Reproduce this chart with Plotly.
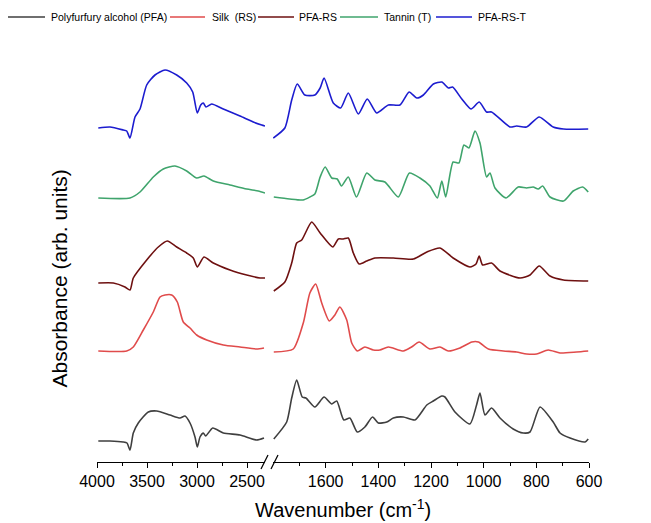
import plotly.graph_objects as go

# ---------------- data (wavenumber in cm^-1, absorbance in arb. units, stacked) -------------
SERIES_NAMES = ["Polyfurfury alcohol (PFA)", "Silk  (RS)", "PFA-RS", "Tannin (T)", "PFA-RS-T"]

pfa_wn_hi = [3987, 3870, 3740, 3700, 3670, 3637, 3587, 3487, 3403, 3270, 3170, 3120, 3070, 3020,
             2997, 2970, 2937, 2913, 2843, 2737, 2570, 2403, 2330]
pfa_ab_hi = [0.21, 0.21, 0.20, 0.19, 0.12, 0.29, 0.39, 0.50, 0.51, 0.47, 0.44, 0.46, 0.39, 0.25,
             0.15, 0.25, 0.29, 0.26, 0.34, 0.29, 0.27, 0.22, 0.24]
pfa_wn_lo = [1797, 1748, 1729, 1710, 1689, 1675, 1641, 1606, 1577, 1558, 1531, 1508, 1480, 1451,
             1422, 1400, 1368, 1343, 1305, 1261, 1216, 1191, 1159, 1147, 1109, 1052, 1027, 1014,
             995, 970, 938, 888, 850, 824, 786, 736, 710, 672, 615, 603]
pfa_ab_lo = [0.23, 0.40, 0.64, 0.82, 0.65, 0.64, 0.55, 0.65, 0.58, 0.61, 0.42, 0.44, 0.30, 0.35,
             0.45, 0.39, 0.40, 0.44, 0.45, 0.42, 0.57, 0.61, 0.66, 0.65, 0.50, 0.38, 0.57, 0.69,
             0.47, 0.54, 0.44, 0.33, 0.29, 0.30, 0.55, 0.40, 0.29, 0.24, 0.20, 0.23]

rs_wn_hi = [3987, 3703, 3637, 3537, 3437, 3370, 3320, 3253, 3197, 3137, 3070, 3003, 2903, 2737,
            2570, 2403, 2330]
rs_ab_hi = [1.11, 1.11, 1.15, 1.32, 1.50, 1.65, 1.67, 1.67, 1.60, 1.40, 1.34, 1.27, 1.22, 1.17,
            1.15, 1.13, 1.14]
rs_wn_lo = [1797, 1723, 1685, 1660, 1638, 1615, 1586, 1565, 1546, 1520, 1501, 1480, 1451, 1419,
            1394, 1362, 1305, 1274, 1245, 1204, 1166, 1134, 1090, 1045, 1020, 982, 925, 875,
            837, 799, 755, 710, 647, 603]
rs_ab_lo = [1.10, 1.13, 1.39, 1.69, 1.78, 1.59, 1.41, 1.47, 1.55, 1.42, 1.19, 1.11, 1.15, 1.12,
            1.12, 1.15, 1.11, 1.15, 1.20, 1.13, 1.15, 1.11, 1.14, 1.20, 1.20, 1.13, 1.11, 1.10,
            1.08, 1.08, 1.12, 1.09, 1.10, 1.11]

pfars_wn_hi = [3987, 3837, 3720, 3670, 3637, 3503, 3387, 3297, 3203, 3103, 3037, 2997, 2930,
               2837, 2670, 2503, 2370, 2320]
pfars_ab_hi = [1.79, 1.79, 1.75, 1.72, 1.84, 2.02, 2.15, 2.21, 2.15, 2.09, 2.04, 1.95, 2.05,
               1.99, 1.92, 1.87, 1.84, 1.84]
pfars_wn_lo = [1797, 1755, 1729, 1710, 1691, 1653, 1621, 1573, 1552, 1533, 1514, 1495, 1473,
               1444, 1413, 1343, 1267, 1216, 1166, 1116, 1052, 1029, 1017, 1004, 970, 938, 862,
               824, 789, 748, 697, 603]
pfars_ab_lo = [1.71, 1.80, 1.99, 2.19, 2.22, 2.40, 2.29, 2.15, 2.23, 2.23, 2.24, 2.09, 1.98,
               2.01, 2.04, 2.04, 2.03, 2.10, 2.14, 2.04, 1.95, 1.98, 2.06, 1.97, 1.99, 1.91, 1.84,
               1.87, 1.96, 1.86, 1.82, 1.81]

t_wn_hi = [3987, 3670, 3570, 3437, 3337, 3220, 3103, 3003, 2930, 2837, 2670, 2503, 2387, 2320]
t_ab_hi = [2.64, 2.64, 2.70, 2.85, 2.93, 2.96, 2.91, 2.84, 2.86, 2.81, 2.77, 2.73, 2.71, 2.69]
t_wn_lo = [1797, 1737, 1686, 1660, 1641, 1621, 1602, 1577, 1556, 1540, 1514, 1483, 1444, 1413,
           1375, 1324, 1282, 1242, 1204, 1176, 1159, 1144, 1116, 1094, 1075, 1056, 1033, 1014,
           989, 976, 957, 915, 869, 837, 812, 793, 776, 748, 697, 660, 624, 603]
t_ab_lo = [2.65, 2.63, 2.62, 2.65, 2.68, 2.85, 2.95, 2.84, 2.83, 2.76, 2.85, 2.65, 2.89, 2.82,
           2.80, 2.65, 2.89, 2.84, 2.76, 2.64, 2.81, 2.65, 3.00, 2.99, 3.17, 3.14, 3.31, 3.19,
           2.85, 2.89, 2.74, 2.64, 2.75, 2.74, 2.75, 2.73, 2.76, 2.65, 2.61, 2.71, 2.75, 2.70]

prt_wn_hi = [3987, 3870, 3737, 3703, 3670, 3620, 3570, 3503, 3420, 3320, 3203, 3103, 3043, 2997,
             2963, 2937, 2910, 2853, 2737, 2570, 2437, 2353, 2320]
prt_ab_hi = [3.34, 3.35, 3.32, 3.31, 3.24, 3.45, 3.53, 3.77, 3.87, 3.92, 3.87, 3.79, 3.70, 3.49,
             3.57, 3.59, 3.55, 3.58, 3.53, 3.46, 3.40, 3.37, 3.36]
prt_wn_lo = [1799, 1755, 1729, 1708, 1679, 1641, 1621, 1606, 1571, 1543, 1514, 1476, 1442, 1406,
             1362, 1318, 1283, 1254, 1229, 1191, 1159, 1134, 1118, 1083, 1048, 1017, 989, 970,
             900, 875, 837, 789, 736, 697, 603]
prt_ab_lo = [3.24, 3.34, 3.62, 3.78, 3.67, 3.67, 3.74, 3.84, 3.59, 3.54, 3.69, 3.48, 3.63, 3.49,
             3.57, 3.57, 3.70, 3.64, 3.67, 3.78, 3.80, 3.74, 3.75, 3.63, 3.53, 3.60, 3.50, 3.50,
             3.35, 3.36, 3.35, 3.45, 3.35, 3.33, 3.33]

HI_TICKS = [4000, 3500, 3000, 2500]
HI_MINOR = [3750, 3250, 2750]
LO_TICKS = [1600, 1400, 1200, 1000, 800, 600]
LO_MINOR = [1700, 1500, 1300, 1100, 900, 700]

# ---------------- styling ----------------
COLORS = ["#3f3f3f", "#e04b4b", "#6e1010", "#3fa46c", "#1c1ccf"]
FONT = "Liberation Sans, Arial, sans-serif"

hi = [(pfa_wn_hi, pfa_ab_hi), (rs_wn_hi, rs_ab_hi), (pfars_wn_hi, pfars_ab_hi),
      (t_wn_hi, t_ab_hi), (prt_wn_hi, prt_ab_hi)]
lo = [(pfa_wn_lo, pfa_ab_lo), (rs_wn_lo, rs_ab_lo), (pfars_wn_lo, pfars_ab_lo),
      (t_wn_lo, t_ab_lo), (prt_wn_lo, prt_ab_lo)]

fig = go.Figure()
for i, name in enumerate(SERIES_NAMES):
    fig.add_trace(go.Scatter(x=hi[i][0], y=hi[i][1], mode="lines", name=name,
                             line=dict(color=COLORS[i], width=1.6, shape="spline", smoothing=0.6),
                             xaxis="x", yaxis="y", showlegend=False))
    fig.add_trace(go.Scatter(x=lo[i][0], y=lo[i][1], mode="lines", name=name,
                             line=dict(color=COLORS[i], width=1.6, shape="spline", smoothing=0.6),
                             xaxis="x2", yaxis="y", showlegend=False))

W, H = 651, 523
PAGE_OFF = 8          # the page body has an 8px margin; target coordinates are screen pixels
# plot area in screen pixels: x 97..589, y 62..462
SX0, SX1, SY0, SY1 = 97, 589, 62, 462
L = SX0 - PAGE_OFF
R = W - (SX1 - PAGE_OFF)
T = SY0 - PAGE_OFF
B = H - (SY1 - PAGE_OFF)
pw = SX1 - SX0
ph = SY1 - SY0


def px_x(p):
    return (p - SX0) / pw


def px_y(p):
    return (SY1 - p) / ph


axis_common = dict(showline=True, linecolor="black", linewidth=1, ticks="outside", ticklen=5,
                   tickwidth=1, tickcolor="black", showgrid=False, zeroline=False,
                   automargin=False,
                   tickfont=dict(family=FONT, size=16, color="black"))

fig.update_layout(
    width=W, height=H,
    margin=dict(l=L, r=R, t=T, b=B, autoexpand=False),
    paper_bgcolor="white", plot_bgcolor="white",
    font=dict(family=FONT, color="black"),
    xaxis=dict(domain=[0, px_x(265)], range=[4000, 2320], tickvals=HI_TICKS,
               minor=dict(tickvals=HI_MINOR, ticks="outside", ticklen=3, tickcolor="black"),
               anchor="y", **axis_common),
    xaxis2=dict(domain=[px_x(273), 1], range=[1800, 600], tickvals=LO_TICKS,
                minor=dict(tickvals=LO_MINOR, ticks="outside", ticklen=3, tickcolor="black"),
                anchor="y", **axis_common),
    yaxis=dict(range=[0, 4.0], showline=False, showticklabels=False, ticks="",
               showgrid=False, zeroline=False, automargin=False),
    showlegend=False,
)

# legend drawn by hand (line sample + label) in one row above the plot
LEG_LINE = [(8, 45), (170, 205), (258, 294), (340, 378), (436, 472)]
LEG_TEXT_X = [49, 210, 297, 382, 476]
LEG_Y = 17
for i, name in enumerate(SERIES_NAMES):
    fig.add_shape(type="line", xref="paper", yref="paper",
                  x0=px_x(LEG_LINE[i][0]), x1=px_x(LEG_LINE[i][1]),
                  y0=px_y(LEG_Y), y1=px_y(LEG_Y),
                  line=dict(color=COLORS[i], width=1.6))
    fig.add_annotation(text=name, xref="paper", yref="paper",
                       x=px_x(LEG_TEXT_X[i]), y=px_y(LEG_Y), xanchor="left", yanchor="middle",
                       showarrow=False,
                       font=dict(family=FONT, size=10.5, color="black"))

# axis titles as annotations
fig.add_annotation(text="Wavenumber (cm<sup>-1</sup>)", xref="paper", yref="paper",
                   x=px_x(343), y=px_y(523), xanchor="center", yanchor="bottom",
                   showarrow=False,
                   font=dict(family=FONT, size=20, color="black"))
fig.add_annotation(text="Absorbance (arb. units)", xref="paper", yref="paper",
                   x=px_x(45), y=px_y(279), showarrow=False, textangle=-90,
                   font=dict(family=FONT, size=21, color="black"))

# axis break marks
for x0, x1 in [(261, 268), (271, 278)]:
    fig.add_shape(type="line", xref="paper", yref="paper",
                  x0=px_x(x0), x1=px_x(x1), y0=px_y(469), y1=px_y(455),
                  line=dict(color="black", width=1.2))

fig.write_html("out.html")
